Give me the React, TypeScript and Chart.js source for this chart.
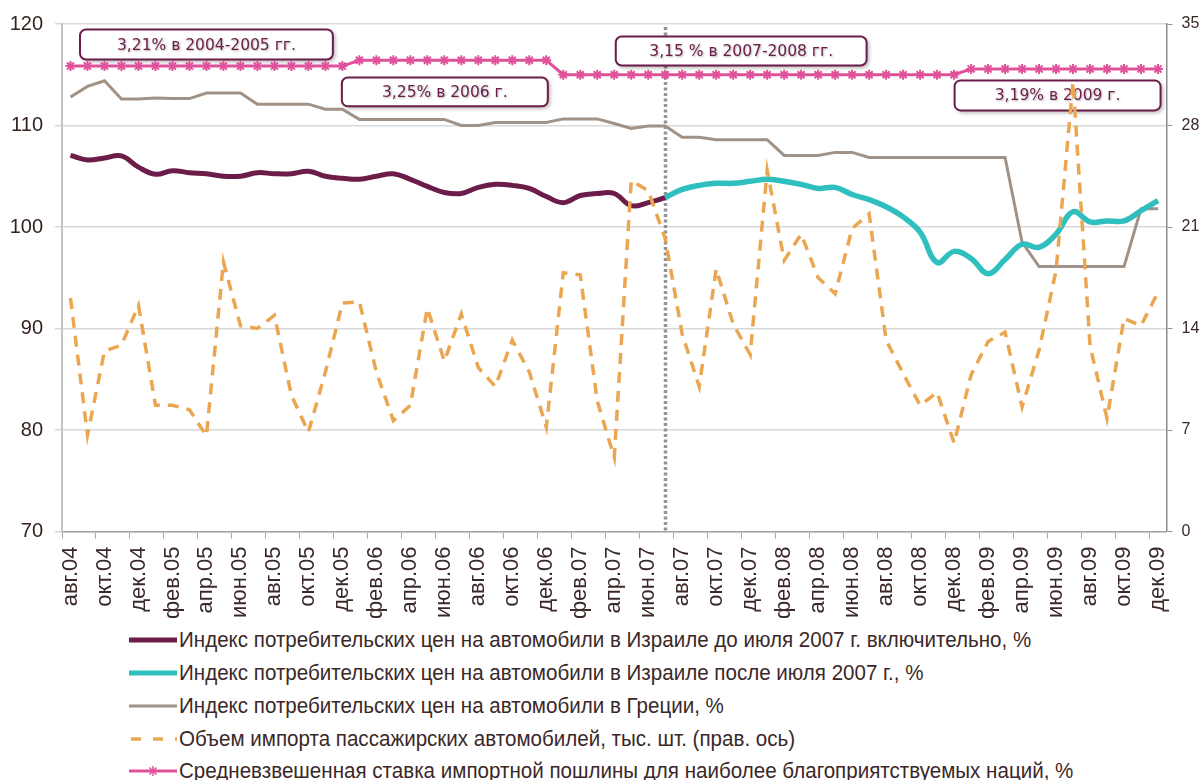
import React, { useEffect, useRef } from "react";
import { Chart, registerables } from "chart.js";

Chart.register(...registerables);

// ---------- DATA ----------
const months = [
  "авг.04", "сен.04", "окт.04", "ноя.04", "дек.04",
  "янв.05", "фев.05", "мар.05", "апр.05", "май.05", "июн.05", "июл.05", "авг.05", "сен.05", "окт.05", "ноя.05", "дек.05",
  "янв.06", "фев.06", "мар.06", "апр.06", "май.06", "июн.06", "июл.06", "авг.06", "сен.06", "окт.06", "ноя.06", "дек.06",
  "янв.07", "фев.07", "мар.07", "апр.07", "май.07", "июн.07", "июл.07", "авг.07", "сен.07", "окт.07", "ноя.07", "дек.07",
  "янв.08", "фев.08", "мар.08", "апр.08", "май.08", "июн.08", "июл.08", "авг.08", "сен.08", "окт.08", "ноя.08", "дек.08",
  "янв.09", "фев.09", "мар.09", "апр.09", "май.09", "июн.09", "июл.09", "авг.09", "сен.09", "окт.09", "ноя.09", "дек.09",
];

// Israel car CPI, Aug 2004 .. Jul 2007 (left axis)
const israelBefore = [
  107.05, 106.6, 106.8, 107.0, 105.9, 105.2, 105.55, 105.35, 105.25, 105.0, 105.0, 105.35,
  105.25, 105.25, 105.5, 105.0, 104.8, 104.7, 105.0, 105.25, 104.7, 104.0, 103.4, 103.3,
  103.9, 104.2, 104.1, 103.8, 103.0, 102.4, 103.1, 103.3, 103.3, 102.1, 102.4, 102.9,
];

// Israel car CPI, Jul 2007 .. Dec 2009 (left axis)
const israelAfter = [
  102.9, 103.7, 104.1, 104.3, 104.3, 104.5, 104.7, 104.5, 104.2, 103.8, 103.9, 103.2,
  102.7, 102.0, 101.0, 99.5, 96.5, 97.6, 96.9, 95.4, 96.8, 98.3, 98.0, 99.3,
  101.5, 100.5, 100.6, 100.6, 101.6, 102.6,
];

// Greece car CPI (left axis)
const greece = [
  112.8, 113.85, 114.4, 112.6, 112.6, 112.7, 112.65, 112.65, 113.2, 113.2, 113.2, 112.1,
  112.1, 112.1, 112.1, 111.6, 111.6, 110.6, 110.6, 110.6, 110.6, 110.6, 110.6, 110.0,
  110.0, 110.3, 110.3, 110.3, 110.3, 110.65, 110.65, 110.65, 110.2, 109.7, 109.95, 109.95,
  108.85, 108.85, 108.6, 108.6, 108.6, 108.6, 107.05, 107.05, 107.05, 107.35, 107.35, 106.85,
  106.85, 106.85, 106.85, 106.85, 106.85, 106.85, 106.85, 106.85, 98.5, 96.1, 96.1, 96.1,
  96.1, 96.1, 96.1, 101.8, 101.8,
];

// Passenger car imports, thousand units (right axis)
const imports = [
  16.1, 6.65, 12.45, 12.85, 15.6, 8.7, 8.7, 8.4, 6.6, 18.6, 14.2, 14.0,
  14.9, 9.4, 6.85, 11.0, 15.75, 15.85, 11.0, 7.65, 8.7, 15.4, 11.75, 15.0,
  11.3, 10.0, 13.2, 11.0, 7.2, 17.85, 17.7, 9.0, 5.1, 24.2, 23.5, 20.2,
  13.6, 10.0, 18.1, 14.3, 12.2, 24.9, 18.7, 20.5, 17.5, 16.4, 20.9, 21.9,
  13.2, 10.9, 8.7, 9.6, 6.1, 10.8, 13.1, 13.75, 8.6, 12.5, 18.0, 31.0,
  12.8, 7.8, 14.7, 14.2, 16.5,
];

// Weighted MFN import duty, % x10 (right axis)
const duty = [
  32.1, 32.1, 32.1, 32.1, 32.1, 32.1, 32.1, 32.1, 32.1, 32.1, 32.1, 32.1, 32.1, 32.1, 32.1, 32.1, 32.1,
  32.5, 32.5, 32.5, 32.5, 32.5, 32.5, 32.5, 32.5, 32.5, 32.5, 32.5, 32.5,
  31.5, 31.5, 31.5, 31.5, 31.5, 31.5, 31.5, 31.5, 31.5, 31.5, 31.5, 31.5,
  31.5, 31.5, 31.5, 31.5, 31.5, 31.5, 31.5, 31.5, 31.5, 31.5, 31.5, 31.5,
  31.9, 31.9, 31.9, 31.9, 31.9, 31.9, 31.9, 31.9, 31.9, 31.9, 31.9, 31.9,
];

const seriesNames = [
  "Индекс потребительских цен на автомобили в Израиле до июля 2007 г. включительно, %",
  "Индекс потребительских цен на автомобили в Израиле после июля 2007 г., %",
  "Индекс потребительских цен на автомобили в Греции, %",
  "Объем импорта пассажирских автомобилей, тыс. шт. (прав. ось)",
  "Средневзвешенная ставка импортной пошлины для наиболее благоприятствуемых наций, %",
];

const annotationTexts = [
  "3,21% в 2004-2005 гг.",
  "3,25% в 2006 г.",
  "3,15 % в 2007-2008 гг.",
  "3,19% в 2009 г.",
];

// ---------- STYLE ----------
const COLORS = {
  before: "#6c1c48",
  after: "#2fbfbf",
  greece: "#a09286",
  imports: "#eaa650",
  duty: "#e0519b",
  text: "#3b2828",
  box: "#6c1c48",
};

// box geometry: [from category, to category, top (right axis), bottom (right axis)]
const annotationBoxes = [
  [0.56, 15.44, 34.62, 32.55],
  [15.97, 28.09, 31.31, 29.32],
  [32.09, 46.85, 34.14, 32.14],
  [52.03, 64.15, 31.11, 29.04],
];

const splitIndex = israelBefore.length - 1;

const SANS = "'Liberation Sans', Arial, sans-serif";
const BOXFONT = "'DejaVu Sans', Verdana, sans-serif";

const overlayPlugin = {
  id: "overlay",
  beforeDatasetsDraw(chart: any) {
    const { ctx, chartArea, scales } = chart;
    const x = Math.round(scales.x.getPixelForValue(splitIndex)) + 0.5;
    ctx.save();
    ctx.strokeStyle = "#939393";
    ctx.lineWidth = 3.5;
    ctx.setLineDash([3, 2.5]);
    ctx.beginPath();
    ctx.moveTo(x, chartArea.top + 3);
    ctx.lineTo(x, chartArea.bottom);
    ctx.stroke();
    ctx.restore();

    annotationBoxes.forEach((b, i) => {
      const x0 = scales.x.getPixelForValue(b[0]);
      const x1 = scales.x.getPixelForValue(b[1]);
      const y0 = scales.y1.getPixelForValue(b[2]);
      const y1 = scales.y1.getPixelForValue(b[3]);
      ctx.save();
      ctx.shadowColor = "rgba(0,0,0,0.35)";
      ctx.shadowBlur = 4;
      ctx.shadowOffsetX = 2;
      ctx.shadowOffsetY = 2;
      ctx.fillStyle = "#ffffff";
      ctx.beginPath();
      ctx.roundRect(x0, y0, x1 - x0, y1 - y0, 6);
      ctx.fill();
      ctx.shadowColor = "rgba(0,0,0,0)";
      ctx.strokeStyle = COLORS.box;
      ctx.lineWidth = 2;
      ctx.stroke();
      ctx.shadowColor = "rgba(0,0,0,0.3)";
      ctx.shadowBlur = 2;
      ctx.shadowOffsetX = 1;
      ctx.shadowOffsetY = 1;
      ctx.fillStyle = COLORS.box;
      ctx.font = `15.5px ${BOXFONT}`;
      ctx.textAlign = "center";
      ctx.textBaseline = "middle";
      ctx.fillText(annotationTexts[i], (x0 + x1) / 2, (y0 + y1) / 2 + 1);
      ctx.restore();
    });
  },
};

function LegendSample({ idx }: { idx: number }) {
  const w = 48;
  const h = 20;
  const c = h / 2;
  if (idx === 0 || idx === 1) {
    return (
      <svg width={w} height={h}>
        <line x1={0} y1={c} x2={w} y2={c} stroke={idx === 0 ? COLORS.before : COLORS.after} strokeWidth={5} strokeLinecap="round" />
      </svg>
    );
  }
  if (idx === 2) {
    return (
      <svg width={w} height={h}>
        <line x1={0} y1={c} x2={w} y2={c} stroke={COLORS.greece} strokeWidth={3} />
      </svg>
    );
  }
  if (idx === 3) {
    return (
      <svg width={w} height={h}>
        <line x1={2} y1={c} x2={w} y2={c} stroke={COLORS.imports} strokeWidth={3.5} strokeDasharray="10 12" />
      </svg>
    );
  }
  const r = 5;
  const m = w / 2;
  return (
    <svg width={w} height={h}>
      <line x1={0} y1={c} x2={w} y2={c} stroke={COLORS.duty} strokeWidth={3} />
      <line x1={m} y1={c - r} x2={m} y2={c + r} stroke={COLORS.duty} strokeWidth={1.5} />
      <line x1={m - r * 0.7} y1={c - r * 0.7} x2={m + r * 0.7} y2={c + r * 0.7} stroke={COLORS.duty} strokeWidth={1.5} />
      <line x1={m - r * 0.7} y1={c + r * 0.7} x2={m + r * 0.7} y2={c - r * 0.7} stroke={COLORS.duty} strokeWidth={1.5} />
    </svg>
  );
}

export default function App() {
  const canvasRef = useRef<HTMLCanvasElement | null>(null);

  useEffect(() => {
    if (!canvasRef.current) return;
    const chart = new Chart(canvasRef.current, {
      type: "line",
      data: {
        labels: months,
        datasets: [
          {
            label: seriesNames[4],
            data: duty,
            yAxisID: "y1",
            borderColor: COLORS.duty,
            borderWidth: 3,
            pointStyle: "star",
            pointRadius: 5,
            pointBorderWidth: 2,
            pointBorderColor: COLORS.duty,
            pointBackgroundColor: COLORS.duty,
            tension: 0,
            order: 0,
          },
          {
            label: seriesNames[3],
            data: imports,
            yAxisID: "y1",
            borderColor: COLORS.imports,
            borderWidth: 3.5,
            borderDash: [11, 8],
            pointRadius: 0,
            tension: 0,
            order: 1,
          },
          {
            label: seriesNames[1],
            data: months.map((_, i) => (i >= splitIndex ? israelAfter[i - splitIndex] : null)),
            yAxisID: "y",
            borderColor: COLORS.after,
            borderWidth: 5.5,
            pointRadius: 0,
            tension: 0.4,
            order: 2,
          },
          {
            label: seriesNames[0],
            data: months.map((_, i) => (i <= splitIndex ? israelBefore[i] : null)),
            yAxisID: "y",
            borderColor: COLORS.before,
            borderWidth: 5,
            pointRadius: 0,
            tension: 0.4,
            order: 3,
          },
          {
            label: seriesNames[2],
            data: greece,
            yAxisID: "y",
            borderColor: COLORS.greece,
            borderWidth: 3,
            pointRadius: 0,
            tension: 0,
            order: 4,
          },
        ],
      },
      options: {
        responsive: false,
        animation: false,
        devicePixelRatio: 1,
        layout: { padding: { top: 23.5, left: 0, right: 0, bottom: 0 } },
        plugins: { legend: { display: false }, tooltip: { enabled: false } },
        scales: {
          x: {
            type: "category",
            offset: true,
            grid: {
              display: true,
              drawOnChartArea: false,
              drawTicks: true,
              tickLength: 7,
              offset: true,
              tickWidth: 1,
              tickColor: (c: any) => (c.index % 2 === 0 ? "#a6a6a6" : "rgba(0,0,0,0)"),
            },
            border: { display: true, color: "#a6a6a6", width: 1.5 },
            ticks: {
              autoSkip: false,
              maxRotation: 90,
              minRotation: 90,
              padding: 8,
              color: COLORS.text,
              font: { family: SANS, size: 22 },
              callback: (_v: any, i: number) => (i % 2 === 0 ? months[i] : ""),
            },
            afterFit: (s: any) => {
              s.height = 90.5;
            },
          },
          y: {
            position: "left",
            min: 70,
            max: 120,
            ticks: { stepSize: 10, padding: 12, color: "#35231f", font: { family: SANS, size: 20 } },
            grid: { color: "#d9d9d9", lineWidth: 1.5, tickLength: 7 },
            border: { color: "#c4c4c4", width: 2 },
            afterFit: (s: any) => {
              s.width = 62;
            },
          },
          y1: {
            position: "right",
            min: 0,
            max: 35,
            ticks: { stepSize: 7, padding: 9, color: COLORS.text, font: { family: SANS, size: 16 } },
            grid: { drawOnChartArea: false, tickLength: 6, color: "#999999" },
            border: { color: "#8c8c8c", width: 1.5 },
            afterFit: (s: any) => {
              s.width = 34.5;
            },
          },
        },
      },
      plugins: [overlayPlugin],
    } as any);
    return () => chart.destroy();
  }, []);

  return (
    <div style={{ position: "absolute", left: 0, top: 0, width: 1201, height: 780, background: "#fff", overflow: "hidden" }}>
      <canvas ref={canvasRef} width={1201} height={622} style={{ display: "block" }} />
      <div style={{ position: "absolute", left: 0, top: 624 }}>
        {seriesNames.map((name, i) => (
          <div key={i} style={{ display: "flex", alignItems: "center", height: 32.75 }}>
            <div style={{ marginLeft: 129, width: 48, height: 20 }}>
              <LegendSample idx={i} />
            </div>
            <span
              style={{
                marginLeft: 2,
                fontFamily: SANS,
                fontSize: 22,
                color: COLORS.text,
                whiteSpace: "nowrap",
                lineHeight: "22px",
                display: "inline-block",
                transform: "scaleX(0.935)",
                transformOrigin: "left center",
              }}
            >
              {name}
            </span>
          </div>
        ))}
      </div>
    </div>
  );
}
